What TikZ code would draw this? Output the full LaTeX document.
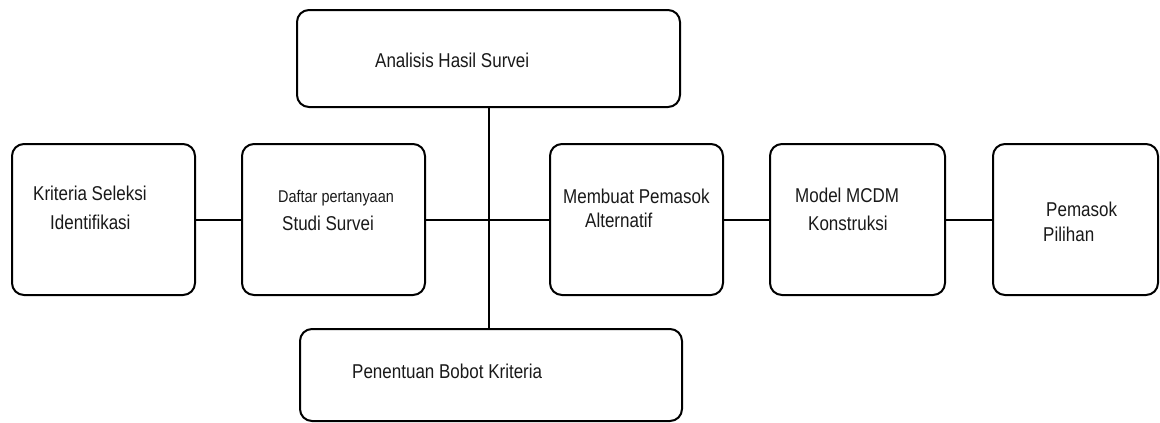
\documentclass[tikz,border=0pt]{standalone}
\usepackage{fontspec}
\setmainfont{Liberation Sans}[FakeStretch=0.85]
\usepackage{tikz}
\usetikzlibrary{calc}
\definecolor{qqqqqq}{rgb}{0.1,0.1,0.1}
\tikzstyle{every node}=[font=\fontsize{20}{24}\selectfont,color=qqqqqq]
\tikzstyle{kotak}=[draw=black,line width=2pt,rounded corners=12pt,inner sep=0pt]
\tikzstyle{teks}=[anchor=base west,inner sep=0pt]
\tikzstyle{garis}=[line width=2pt,color=black]

\begin{document}
\begin{tikzpicture}[line cap=round,line join=round,x=1pt,y=-1pt]
                \useasboundingbox (0,0) rectangle (1160,423);
                \node [kotak,minimum width=383pt,minimum height=97pt] (analisis) at (488.5,58.5) {};
                \node [kotak,minimum width=382pt,minimum height=92pt] (penentuan) at (491,375) {};
                \node [kotak,minimum width=183pt,minimum height=151pt] (kriteria) at (103.5,219.5) {};
                \node [kotak,minimum width=183pt,minimum height=151pt] (daftar) at (333.5,219.5) {};
                \node [kotak,minimum width=173pt,minimum height=151pt] (membuat) at (636.5,219.5) {};
                \node [kotak,minimum width=175pt,minimum height=151pt] (model) at (857.5,219.5) {};
                \node [kotak,minimum width=165pt,minimum height=151pt] (pemasok) at (1075.5,219.5) {};
                \node [teks] (tAnalisis) at (375,67) {Analisis Hasil Survei};
                \node [teks] (tPenentuan) at (352,378) {Penentuan Bobot Kriteria};
                \node [teks] (tKriteriaA) at (33,200) {Kriteria Seleksi};
                \node [teks] (tKriteriaB) at (50,229) {Identifikasi};
                \node [teks,font=\fontsize{17}{20}\selectfont] (tDaftarA) at (278,202) {Daftar pertanyaan};
                \node [teks] (tDaftarB) at (282,230) {Studi Survei};
                \node [teks] (tMembuatA) at (563,203) {Membuat Pemasok};
                \node [teks] (tMembuatB) at (585,227) {Alternatif};
                \node [teks] (tModelA) at (795,202) {Model MCDM};
                \node [teks] (tModelB) at (808,230) {Konstruksi};
                \node [teks] (tPemasokA) at (1046,216) {Pemasok};
                \node [teks] (tPemasokB) at (1043,241) {Pilihan};
                \draw [garis] (kriteria.east) -- (daftar.west);
                \draw [garis] (daftar.east) -- (membuat.west);
                \draw [garis] (analisis.south) -- (analisis.south |- penentuan.north);
                \draw [garis] (membuat.east) -- (model.west);
                \draw [garis] (model.east) -- (pemasok.west);
            \end{tikzpicture}
\end{document}
